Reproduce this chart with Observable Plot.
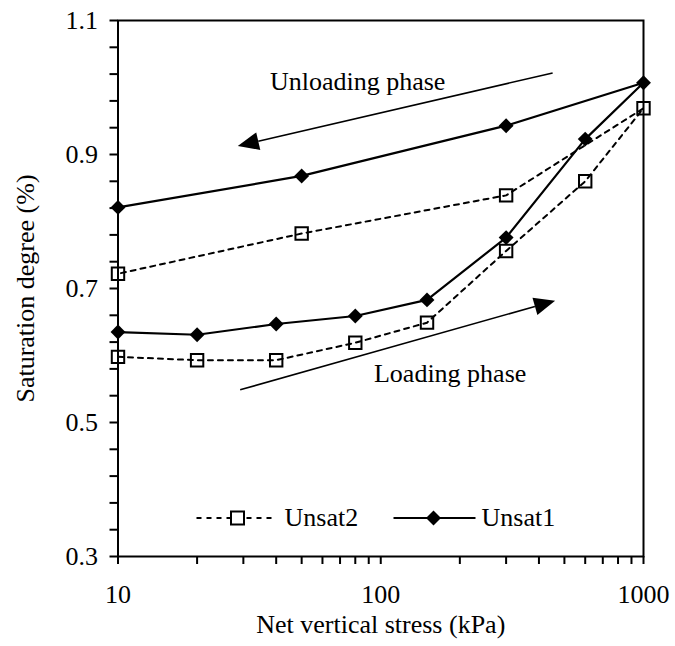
<!DOCTYPE html>
<html>
<head>
<meta charset="utf-8">
<script src="https://cdn.jsdelivr.net/npm/d3@7"></script>
<script src="https://cdn.jsdelivr.net/npm/@observablehq/plot@0.6"></script>
<style>
  html, body { margin: 0; padding: 0; background: #fff; }
</style>
</head>
<body>
<div id="chart"></div>
<script>
// ---- data ----
const stressUnsat1 = [10, 20, 40, 80, 150, 300, 600, 1000, 300, 50, 10];
const satUnsat1    = [0.635, 0.631, 0.647, 0.659, 0.683, 0.776, 0.923, 1.007, 0.943, 0.868, 0.821];
const stressUnsat2 = [10, 20, 40, 80, 150, 300, 600, 1000, 300, 50, 10];
const satUnsat2    = [0.598, 0.593, 0.593, 0.619, 0.649, 0.756, 0.860, 0.969, 0.839, 0.782, 0.722];

const xTickLabels = [10, 100, 1000];
const xMinorTicks = [20, 30, 40, 50, 60, 70, 80, 90, 200, 300, 400, 500, 600, 700, 800, 900];
const yTickLabels = [0.3, 0.5, 0.7, 0.9, 1.1];
const yMinorTicks = [0.34, 0.38, 0.42, 0.46, 0.54, 0.58, 0.62, 0.66, 0.74, 0.78, 0.82, 0.86, 0.94, 0.98, 1.02, 1.06];

const seriesNames = ["Unsat2", "Unsat1"];
const phaseLabels = ["Unloading phase", "Loading phase"];

// annotation anchors (data space)
const arrowUnloading = {x1: 453, y1: 1.021, x2: 28.7, y2: 0.912};
const arrowLoading   = {x1: 29.3, y1: 0.548, x2: 463, y2: 0.681};
const labelUnloading = {x: 81.7, y: 1.009};
const labelLoading   = {x: 183.7, y: 0.5725};

// ---- tables ----
const unsat1 = stressUnsat1.map((s, i) => ({stress: s, sat: satUnsat1[i]}));
const unsat2 = stressUnsat2.map((s, i) => ({stress: s, sat: satUnsat2[i]}));

// filled-head arrows drawn through the plot scales
function arrowsMark(arrows) {
  return (index, scales, values, dimensions) => {
    const g = d3.create("svg:g");
    for (const a of arrows) {
      const x1 = scales.x(a.x1), y1 = scales.y(a.y1);
      const x2 = scales.x(a.x2), y2 = scales.y(a.y2);
      const ang = Math.atan2(y2 - y1, x2 - x1);
      const L = 21, W = 9;
      const bx = x2 - L * Math.cos(ang), by = y2 - L * Math.sin(ang);
      const nx = -Math.sin(ang), ny = Math.cos(ang);
      g.append("line")
        .attr("x1", x1).attr("y1", y1).attr("x2", bx).attr("y2", by)
        .attr("stroke", "black").attr("stroke-width", 1.6);
      g.append("path")
        .attr("d", `M${x2},${y2}L${bx + nx * W},${by + ny * W}L${bx - nx * W},${by - ny * W}Z`)
        .attr("fill", "black");
    }
    return g.node();
  };
}

// legend drawn in the lower part of the frame
function legendMark() {
  return (index, scales, values, dimensions) => {
    const g = d3.create("svg:g");
    const yy = dimensions.height - dimensions.marginBottom - 38;
    const L = dimensions.marginLeft;
    // Unsat2
    g.append("line").attr("x1", L + 79).attr("x2", L + 158).attr("y1", yy).attr("y2", yy)
      .attr("stroke", "black").attr("stroke-width", 2).attr("stroke-dasharray", "5,5");
    g.append("rect").attr("x", L + 120 - 6.5).attr("y", yy - 6.5).attr("width", 13).attr("height", 13)
      .attr("fill", "white").attr("stroke", "black").attr("stroke-width", 2);
    g.append("text").attr("x", L + 167).attr("y", yy).attr("dy", "0.32em")
      .attr("text-anchor", "start").attr("fill", "black").text(seriesNames[0]);
    // Unsat1
    g.append("line").attr("x1", L + 276).attr("x2", L + 358).attr("y1", yy).attr("y2", yy)
      .attr("stroke", "black").attr("stroke-width", 2);
    g.append("path").attr("d", `M${L + 316},${yy - 7.5}L${L + 323.5},${yy}L${L + 316},${yy + 7.5}L${L + 308.5},${yy}Z`)
      .attr("fill", "black");
    g.append("text").attr("x", L + 364).attr("y", yy).attr("dy", "0.32em")
      .attr("text-anchor", "start").attr("fill", "black").text(seriesNames[1]);
    return g.node();
  };
}

const chart = Plot.plot({
  width: 675,
  height: 646,
  marginLeft: 117.5,
  marginRight: 32,
  marginTop: 20,
  marginBottom: 90,
  style: {fontFamily: "'Liberation Serif', 'Times New Roman', serif", fontSize: "26px", color: "black", background: "white"},
  x: {type: "log", domain: [10, 1000]},
  y: {domain: [0.3, 1.1]},
  marks: [
    Plot.axisX(xMinorTicks, {tickSize: 8, tickFormat: () => "", strokeWidth: 2, label: null}),
    Plot.axisX(xTickLabels, {tickSize: 8, tickPadding: 20, strokeWidth: 2, tickFormat: d => String(d),
      label: "Net vertical stress (kPa)", labelAnchor: "center", labelOffset: 76, labelArrow: "none"}),
    Plot.axisY(yMinorTicks, {tickSize: 8, tickFormat: () => "", strokeWidth: 2, label: null}),
    Plot.axisY(yTickLabels, {tickSize: 8, tickPadding: 12, strokeWidth: 2, tickFormat: d => d.toFixed(1),
      label: "Saturation degree (%)", labelAnchor: "center", labelOffset: 102, labelArrow: "none"}),
    Plot.frame({stroke: "black", strokeWidth: 2}),
    Plot.line(unsat2, {x: "stress", y: "sat", stroke: "black", strokeWidth: 2, strokeDasharray: "5,5"}),
    Plot.line(unsat1, {x: "stress", y: "sat", stroke: "black", strokeWidth: 2.2}),
    Plot.dot(unsat2, {x: "stress", y: "sat", symbol: "square", r: 7, fill: "none", stroke: "black", strokeWidth: 2}),
    Plot.dot(unsat1, {x: "stress", y: "sat", symbol: "diamond2", r: 6.7, fill: "black", stroke: "none"}),
    arrowsMark([arrowUnloading, arrowLoading]),
    Plot.text([labelUnloading], {x: "x", y: "y", text: () => phaseLabels[0], textAnchor: "middle", fill: "black"}),
    Plot.text([labelLoading], {x: "x", y: "y", text: () => phaseLabels[1], textAnchor: "middle", fill: "black"}),
    legendMark()
  ]
});
document.getElementById("chart").appendChild(chart);
</script>
</body>
</html>
